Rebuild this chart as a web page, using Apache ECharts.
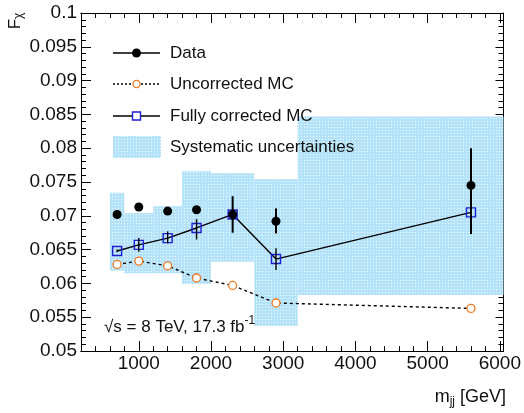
<!DOCTYPE html>
<html>
<head>
<meta charset="utf-8">
<script src="https://cdn.jsdelivr.net/npm/echarts@6/dist/echarts.min.js"></script>
<style>
html,body{margin:0;padding:0;background:#fff;}
#c{width:524px;height:413px;}
</style>
</head>
<body>
<div id="c"></div>
<script>
// ---- data ----
const mjj = [700, 1000, 1400, 1800, 2300, 2900, 5600];
const dataVal = [0.0702, 0.0713, 0.0707, 0.0709, 0.0702, 0.0692, 0.0745];
const dataLo  = [0.0699, 0.0710, 0.0704, 0.0706, 0.0675, 0.0674, 0.0673];
const dataHi  = [0.0705, 0.0716, 0.0710, 0.0712, 0.0729, 0.0711, 0.0800];
const uncorrMC = [0.0628, 0.0633, 0.0626, 0.0608, 0.0597, 0.0571, 0.0563];
const corrMC   = [0.0648, 0.0657, 0.0667, 0.0682, 0.0702, 0.0636, 0.0705];
const corrLo   = [0.0646, 0.0647, 0.0659, 0.0665, 0.0700, 0.0620, 0.0703];
const corrHi   = [0.0650, 0.0667, 0.0677, 0.0695, 0.0704, 0.0652, 0.0707];
const sysLow    = [600, 800, 1200, 1600, 2000, 2600, 3200];
const sysHigh   = [800, 1200, 1600, 2000, 2600, 3200, 8000];
const sysBottom = [0.0619, 0.0615, 0.0615, 0.0599, 0.0632, 0.0537, 0.0583];
const sysTop    = [0.0734, 0.0704, 0.0714, 0.0766, 0.0763, 0.0754, 0.0847];
const xTicks = [1000, 2000, 3000, 4000, 5000, 6000];
const xMinorTicks = [400, 600, 800, 1200, 1400, 1600, 1800, 2200, 2400, 2600, 2800, 3200, 3400, 3600, 3800, 4200, 4400, 4600, 4800, 5200, 5400, 5600, 5800];
const yTickLabels = ['0.05','0.055','0.06','0.065','0.07','0.075','0.08','0.085','0.09','0.095','0.1'];
const legendNames = ['Data', 'Uncorrected MC', 'Fully corrected MC', 'Systematic uncertainties'];

// ---- styles ----
const FONT = '"Liberation Sans", Arial, Helvetica, sans-serif';
const BLUE = '#1f1fd0';
const ORANGE = '#ee7a22';
const TXT = '#111';

// dotted light-blue fill pattern
const pc = document.createElement('canvas');
pc.width = 3; pc.height = 3;
const pctx = pc.getContext('2d');
pctx.fillStyle = 'rgb(180,226,248)';
pctx.fillRect(0, 0, 3, 3);
pctx.fillStyle = 'rgb(240,249,254)';
pctx.fillRect(1, 1, 1, 1);
const bandFill = { image: pc, repeat: 'repeat' };

const chart = echarts.init(document.getElementById('c'), null, { renderer: 'canvas' });

const xMin = 200, xMax = 6050;

function xAxisDef(position, ticks, len, labels) {
  return {
    type: 'value', position: position, min: xMin, max: xMax,
    axisLine: { show: true, onZero: false, lineStyle: { color: '#000', width: 1 } },
    axisTick: { show: true, inside: true, length: len, customValues: ticks, lineStyle: { color: '#000', width: 1 } },
    axisLabel: labels ? {
      show: true, customValues: ticks, margin: 3, color: TXT, fontSize: 19, fontFamily: FONT,
      formatter: v => String(v)
    } : { show: false },
    splitLine: { show: false }
  };
}

const bandData = sysLow.map((l, i) => [l, sysHigh[i], sysBottom[i], sysTop[i]]);
const dataErr = mjj.map((x, i) => [x, dataLo[i], dataHi[i]]);
const corrErr = mjj.map((x, i) => [x, corrLo[i], corrHi[i]]);

function errRender(width) {
  return function (params, api) {
    const p0 = api.coord([api.value(0), api.value(1)]);
    const p1 = api.coord([api.value(0), api.value(2)]);
    return { type: 'line', shape: { x1: p0[0], y1: p0[1], x2: p1[0], y2: p1[1] },
      style: { stroke: '#000', lineWidth: width } };
  };
}

const legendRows = [53, 84, 116, 147];
const lx0 = 113, lx1 = 160, lxc = 136.5, ltx = 170;

const option = {
  animation: false,
  backgroundColor: '#fff',
  grid: { left: 81, top: 13, width: 425, height: 338, containLabel: false },
  xAxis: [
    xAxisDef('bottom', xTicks, 10, true),
    xAxisDef('bottom', xMinorTicks, 5, false),
    xAxisDef('top', xTicks, 10, false),
    xAxisDef('top', xMinorTicks, 5, false)
  ],
  yAxis: [
    {
      type: 'value', position: 'left', min: 0.05, max: 0.1, interval: 0.005,
      axisLine: { show: true, onZero: false, lineStyle: { color: '#000', width: 1 } },
      axisTick: { show: true, inside: true, length: 10, lineStyle: { color: '#000' } },
      minorTick: { show: true, splitNumber: 5, length: 5, lineStyle: { color: '#000' } },
      axisLabel: { margin: 4, color: TXT, fontSize: 19, fontFamily: FONT,
        formatter: v => yTickLabels[Math.round((v - 0.05) / 0.005)] },
      splitLine: { show: false }, minorSplitLine: { show: false }
    },
    {
      type: 'value', position: 'right', min: 0.05, max: 0.1, interval: 0.005,
      axisLine: { show: true, onZero: false, lineStyle: { color: '#000', width: 1 } },
      axisTick: { show: true, inside: true, length: 8, lineStyle: { color: '#000' } },
      minorTick: { show: true, splitNumber: 5, length: 5, lineStyle: { color: '#000' } },
      axisLabel: { show: false },
      splitLine: { show: false }, minorSplitLine: { show: false }
    }
  ],
  series: [
    {
      name: legendNames[3], type: 'custom', z: 1, data: bandData,
      renderItem: function (params, api) {
        const p0 = api.coord([api.value(0), api.value(3)]);
        const p1 = api.coord([api.value(1), api.value(2)]);
        const cs = params.coordSys;
        const r = echarts.graphic.clipRectByRect(
          { x: p0[0], y: p0[1], width: p1[0] - p0[0], height: p1[1] - p0[1] },
          { x: cs.x, y: cs.y, width: cs.width, height: cs.height });
        if (!r) return null;
        return { type: 'rect', shape: r, style: { fill: bandFill } };
      }
    },
    {
      name: legendNames[1], type: 'line', z: 3,
      data: mjj.map((x, i) => [x, uncorrMC[i]]),
      lineStyle: { color: '#000', width: 1.4, type: [3, 3] },
      symbol: 'circle', symbolSize: 8,
      itemStyle: { color: '#fff', borderColor: ORANGE, borderWidth: 1.3 }
    },
    {
      name: legendNames[2], type: 'line', z: 3,
      data: mjj.map((x, i) => [x, corrMC[i]]),
      lineStyle: { color: '#000', width: 1.4 },
      symbol: 'rect', symbolSize: 9,
      itemStyle: { color: 'rgba(0,0,0,0)', borderColor: BLUE, borderWidth: 1.4 }
    },
    { type: 'custom', z: 4, data: corrErr, renderItem: errRender(1.4) },
    { type: 'custom', z: 4, data: dataErr, renderItem: errRender(2) },
    {
      name: legendNames[0], type: 'scatter', z: 5,
      data: mjj.map((x, i) => [x, dataVal[i]]),
      symbol: 'circle', symbolSize: 9,
      itemStyle: { color: '#000', opacity: 1 }
    }
  ],
  graphic: [
    // legend: Data
    { type: 'line', z: 100, shape: { x1: lx0, y1: legendRows[0], x2: lx1, y2: legendRows[0] }, style: { stroke: '#000', lineWidth: 1.4 } },
    { type: 'circle', z: 101, shape: { cx: lxc, cy: legendRows[0], r: 4.5 }, style: { fill: '#000' } },
    // Uncorrected MC
    { type: 'line', z: 100, shape: { x1: lx0, y1: legendRows[1], x2: lx1, y2: legendRows[1] }, style: { stroke: '#000', lineWidth: 1.4, lineDash: [2, 2] } },
    { type: 'circle', z: 101, shape: { cx: lxc, cy: legendRows[1], r: 3.6 }, style: { fill: '#fff', stroke: ORANGE, lineWidth: 1.3 } },
    // Fully corrected MC
    { type: 'line', z: 100, shape: { x1: lx0, y1: legendRows[2], x2: lx1, y2: legendRows[2] }, style: { stroke: '#000', lineWidth: 1.4 } },
    { type: 'rect', z: 101, shape: { x: lxc - 4, y: legendRows[2] - 4, width: 8, height: 8 }, style: { fill: '#fff', stroke: BLUE, lineWidth: 1.4 } },
    // Systematic
    { type: 'rect', z: 100, shape: { x: lx0, y: legendRows[3] - 11, width: 48, height: 22 }, style: { fill: bandFill } },
    ...legendNames.map((n, i) => ({
      type: 'text', z: 102, x: ltx, y: legendRows[i],
      style: { text: n, fill: TXT, font: '17px ' + FONT, textAlign: 'left', textVerticalAlign: 'middle' }
    })),
    // energy / lumi label
    {
      type: 'text', z: 102, x: 104, y: 327,
      style: {
        text: '{a|√s = 8 TeV, 17.3 fb}{s|-1}', textAlign: 'left', textVerticalAlign: 'middle',
        rich: {
          a: { font: '17px ' + FONT, fill: TXT },
          s: { font: '12px ' + FONT, fill: TXT, padding: [0, 0, 12, 0] }
        }
      }
    },
    // x-axis title
    {
      type: 'text', z: 102, x: 506, y: 397,
      style: {
        text: '{a|m}{s|jj}{a| [GeV]}', textAlign: 'right', textVerticalAlign: 'middle',
        rich: {
          a: { font: '18px ' + FONT, fill: TXT },
          s: { font: '12px ' + FONT, fill: TXT, padding: [10, 0, 0, 0] }
        }
      }
    },
    // y-axis title
    {
      type: 'text', z: 102, x: 15, y: 21, rotation: Math.PI / 2,
      style: {
        text: '{a|F}{s|χ}', textAlign: 'center', textVerticalAlign: 'middle',
        rich: {
          a: { font: '17px ' + FONT, fill: TXT },
          s: { font: '12px ' + FONT, fill: TXT, padding: [8, 0, 0, 0] }
        }
      }
    }
  ]
};

chart.setOption(option);
</script>
</body>
</html>
